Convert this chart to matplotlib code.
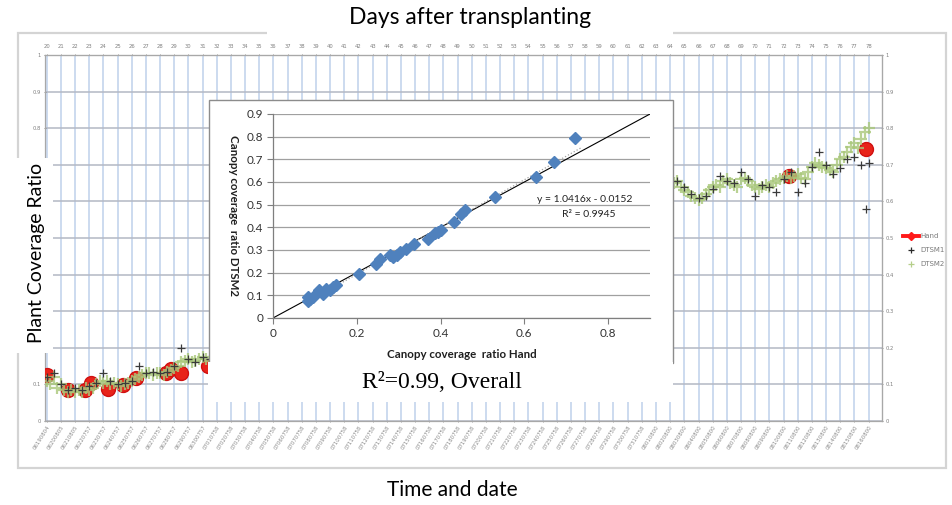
import numpy as np
import matplotlib
matplotlib.use("Agg")
import matplotlib.pyplot as plt
from matplotlib.patches import Rectangle
from matplotlib.lines import Line2D

# ---------------- data ----------------
days = list(range(20, 79))
june = [f"06{d:02d}" for d in range(19, 31)]
july = [f"07{d:02d}" for d in range(1, 32)]
aug = [f"08{d:02d}" for d in range(1, 17)]
time_tags = ["0804", "0805", "0805"] + ["0757"] * 9 + ["0758"] * 31 + ["0800"] * 16
date_labels = [m + t for m, t in zip(june + july + aug, time_tags)]

y_ticks = [0, 0.1, 0.2, 0.3, 0.4, 0.5, 0.6, 0.7, 0.8, 0.9, 1.0]
# left labels 0.2-0.7 are hidden behind the y-title box in the original
left_visible = [0, 0.1, 0.8, 0.9, 1.0]

hand_day = [20.0, 21.5, 22.7, 23.1, 24.3, 25.4, 26.3, 28.4, 28.75, 29.5, 31.4, 72.4, 77.85]
hand_val = [0.126, 0.085, 0.085, 0.104, 0.087, 0.098, 0.117, 0.131, 0.142, 0.131, 0.150, 0.669, 0.742]

dtsm2_day_a = np.arange(20.0, 31.51, 0.25)
dtsm2_val_a = [0.11, 0.10, 0.12, 0.09, 0.10, 0.085, 0.08, 0.085, 0.08, 0.085,
               0.08, 0.09, 0.085, 0.09, 0.10, 0.11, 0.105, 0.11, 0.10, 0.105,
               0.10, 0.095, 0.10, 0.105, 0.11, 0.115, 0.12, 0.125, 0.13, 0.13,
               0.125, 0.13, 0.13, 0.125, 0.135, 0.14, 0.145, 0.15, 0.16, 0.165,
               0.17, 0.16, 0.165, 0.17, 0.175, 0.17, 0.165]
dtsm2_day_b = np.arange(64.25, 78.01, 0.25)
dtsm2_val_b = [0.65, 0.655, 0.64, 0.63, 0.625, 0.615, 0.61, 0.605, 0.61, 0.62,
               0.63, 0.64, 0.645, 0.64, 0.655, 0.66, 0.65, 0.645, 0.64, 0.66,
               0.665, 0.655, 0.645, 0.64, 0.635, 0.64, 0.645, 0.64, 0.65, 0.655,
               0.66, 0.665, 0.67, 0.665, 0.67, 0.675, 0.665, 0.66, 0.68, 0.695,
               0.705, 0.70, 0.695, 0.69, 0.685, 0.68, 0.70, 0.715, 0.72, 0.735,
               0.75, 0.76, 0.745, 0.77, 0.79, 0.80]

dtsm1_day_a = np.arange(20.0, 31.51, 0.5)
dtsm1_val_a = [0.12, 0.13, 0.10, 0.085, 0.09, 0.085, 0.095, 0.105, 0.13, 0.11,
               0.10, 0.105, 0.11, 0.15, 0.13, 0.135, 0.13, 0.135, 0.15, 0.20,
               0.17, 0.16, 0.175, 0.17]
dtsm1_day_b = np.arange(64.5, 78.01, 0.5)
dtsm1_val_b = [0.655, 0.64, 0.62, 0.61, 0.615, 0.635, 0.67, 0.655, 0.65, 0.68,
               0.66, 0.615, 0.645, 0.64, 0.625, 0.66, 0.68, 0.625, 0.65, 0.695,
               0.735, 0.70, 0.675, 0.69, 0.715, 0.72, 0.70, 0.705]
dtsm1_outlier_day = [77.85]
dtsm1_outlier_val = [0.58]

# inset scatter
inset_hand = [0.722, 0.671, 0.629, 0.529, 0.458, 0.450, 0.432, 0.402, 0.394, 0.386,
              0.369, 0.337, 0.317, 0.303, 0.295, 0.287, 0.279, 0.255, 0.245, 0.205,
              0.151, 0.143, 0.135, 0.126, 0.119, 0.111, 0.096, 0.088, 0.084, 0.084]
inset_dtsm2 = [0.792, 0.689, 0.623, 0.535, 0.476, 0.461, 0.424, 0.387, 0.380, 0.373,
               0.350, 0.325, 0.303, 0.292, 0.280, 0.270, 0.280, 0.259, 0.240, 0.193,
               0.144, 0.137, 0.125, 0.130, 0.108, 0.125, 0.093, 0.082, 0.093, 0.074]
trend_slope, trend_icpt = 1.0416, -0.0152
inset_yticks = [0, 0.1, 0.2, 0.3, 0.4, 0.5, 0.6, 0.7, 0.8, 0.9]
inset_xticks = [0, 0.2, 0.4, 0.6, 0.8]

# ---------------- figure ----------------
W, H = 953, 505
fig = plt.figure(figsize=(W / 100, H / 100), dpi=100)
fig.patch.set_facecolor("white")
SANS = ["Lato", "DejaVu Sans"]


def fx(px):
    return px / W


def fy(py):
    return 1 - py / H


def frect(x0, y0, x1, y1, **kw):
    r = Rectangle((fx(x0), fy(y1)), fx(x1) - fx(x0), fy(y0) - fy(y1),
                  transform=fig.transFigure, **kw)
    fig.add_artist(r)
    return r


# outer light frame
frect(18, 33, 946, 468, facecolor="none", edgecolor="#D4D4D4", lw=1.6, zorder=-1)

# ---------------- main chart ----------------
ax = fig.add_axes([fx(45), fy(421), fx(882) - fx(45), fy(55) - fy(421)], zorder=0)
ax.set_xlim(19.88, 78.95)
ax.set_ylim(0, 1)
ax.set_facecolor("none")
ax.set_axisbelow(True)
ax.yaxis.grid(True, color="#B3B8C4", lw=1.1)
ax.xaxis.grid(True, color="#C8D8EE", lw=1.3)
for s in ax.spines.values():
    s.set_color("#A8A8A8")
    s.set_linewidth(0.9)

ax.set_yticks(y_ticks)
ax.set_yticklabels([f"{v:g}" if v in left_visible else "" for v in y_ticks])
ax.tick_params(axis="y", labelsize=3.8, colors="#808080", length=1.5, width=0.6,
               pad=2, direction="inout")
secy = ax.secondary_yaxis("right")
secy.set_yticks(y_ticks)
secy.set_yticklabels([f"{v:g}" for v in y_ticks])
secy.tick_params(labelsize=3.8, colors="#808080", length=1.5, width=0.6, pad=2,
                 direction="inout")
secy.spines["right"].set_color("#A8A8A8")

ax.set_xticks(days)
ax.set_xticklabels(date_labels, rotation=58, ha="right", rotation_mode="anchor",
                   fontsize=3.9, color="#8a8a8a")
ax.tick_params(axis="x", length=2, width=0.6, colors="#909090", pad=1.5,
               direction="inout")
for lab in ax.get_xticklabels():
    lab.set_color("#8a8a8a")

sec = ax.secondary_xaxis("top")
sec.set_xticks(days)
sec.set_xticklabels([str(d) for d in days])
sec.tick_params(labelsize=3.8, colors="#808080", length=2, width=0.6, pad=3,
                direction="inout")
sec.spines["top"].set_color("#A8A8A8")

ax.plot(hand_day, hand_val, linestyle="none", marker="o", ms=10,
        color="#E8231A", mec="#D01010", zorder=3)
for dd, vv in [(dtsm2_day_a, dtsm2_val_a), (dtsm2_day_b, dtsm2_val_b)]:
    ax.plot(dd, vv, linestyle="none", marker="+", ms=8, mew=1.6,
            color="#A9C77A", alpha=0.8, zorder=4)
for dd, vv in [(dtsm1_day_a, dtsm1_val_a), (dtsm1_day_b, dtsm1_val_b),
               (dtsm1_outlier_day, dtsm1_outlier_val)]:
    ax.plot(dd, vv, linestyle="none", marker="+", ms=5.5, mew=0.9,
            color="#3A3A3A", zorder=5)

handles = [
    Line2D([], [], color="#FF1A1A", lw=2.8, marker="D", ms=4),
    Line2D([], [], color="#2A2A2A", lw=0, marker="+", ms=4, mew=0.9),
    Line2D([], [], color="#B5CF8A", lw=0, marker="+", ms=4, mew=0.9),
]
leg = ax.legend(handles, ["Hand", "DTSM1", "DTSM2"], loc="upper left",
                bbox_to_anchor=(fx(900), fy(230)), bbox_transform=fig.transFigure,
                frameon=False, fontsize=5, handlelength=2.2, handletextpad=0.2,
                labelspacing=1.15, borderpad=0)
for t in leg.get_texts():
    t.set_color("#7a7a7a")

# ---------------- overlays ----------------
frect(267, 0, 673, 36, facecolor="white", edgecolor="none", zorder=1)
fig.text(fx(470), fy(18), "Days after transplanting", ha="center", va="center",
         fontsize=16.5, family=SANS, color="#000000", zorder=3)

frect(0, 158, 53, 353, facecolor="white", edgecolor="none", zorder=1)
fig.text(fx(37), fy(253), "Plant Coverage Ratio", rotation=90, ha="center",
         va="center", fontsize=14, family=SANS, color="#000000", zorder=3)

fig.text(fx(452), fy(490), "Time and date", ha="center", va="center",
         fontsize=15, family=SANS, color="#000000", zorder=3)

# inset frame
frect(209, 100, 673, 363, facecolor="white", edgecolor="#8C8C8C", lw=1.0, zorder=1)
frect(208, 362, 673, 402, facecolor="white", edgecolor="none", zorder=1.1)

axi = fig.add_axes([fx(273), fy(318), fx(650) - fx(273), fy(114) - fy(318)], zorder=2)
axi.set_facecolor("none")
axi.set_xlim(0, 0.9)
axi.set_ylim(0, 0.9)
axi.set_yticks(inset_yticks)
axi.set_yticklabels([f"{v:g}" for v in inset_yticks])
axi.set_xticks(inset_xticks)
axi.set_xticklabels([f"{v:g}" for v in inset_xticks])
axi.yaxis.grid(True, color="#A0A0A0", lw=0.9)
axi.set_axisbelow(True)
for k in ["top", "right"]:
    axi.spines[k].set_visible(False)
for k in ["left", "bottom"]:
    axi.spines[k].set_color("#7F7F7F")
    axi.spines[k].set_linewidth(0.9)
axi.tick_params(labelsize=8.5, colors="#7F7F7F", length=4, width=0.8, pad=3)
for lab in axi.get_xticklabels() + axi.get_yticklabels():
    lab.set_color("#333333")
    lab.set_family(SANS)

axi.plot([0, 0.9], [0, 0.9], color="black", lw=0.8, zorder=2)
tx = np.array([min(inset_hand), max(inset_hand) + 0.015])
axi.plot(tx, trend_slope * tx + trend_icpt, color="#A0A0A0", lw=0.9, ls=":", zorder=2)
axi.plot(inset_hand, inset_dtsm2, linestyle="none", marker="D", ms=6,
         color="#4F81BD", zorder=3)

fig.text(fx(537), fy(200), f"y = {trend_slope}x - {abs(trend_icpt)}", ha="left",
         va="center", fontsize=7.5, family=SANS, color="#222222", zorder=3)
fig.text(fx(589), fy(215), "R² = 0.9945", ha="center", va="center",
         fontsize=7.5, family=SANS, color="#222222", zorder=3)
fig.text(fx(462), fy(355), "Canopy coverage  ratio Hand", ha="center", va="center",
         fontsize=8.3, fontweight="bold", family=SANS, color="#1F1F1F", zorder=3)
fig.text(fx(233), fy(216), "Canopy coverage  ratio DTSM2", rotation=-90, ha="center",
         va="center", fontsize=8.3, fontweight="bold", family=SANS, color="#1F1F1F",
         zorder=3)
fig.text(fx(442), fy(382), "R²=0.99, Overall", ha="center", va="center",
         fontsize=17, family=["Liberation Serif", "DejaVu Serif"], color="#000000",
         zorder=3)

fig.savefig("out.png", dpi=100, facecolor="white")
